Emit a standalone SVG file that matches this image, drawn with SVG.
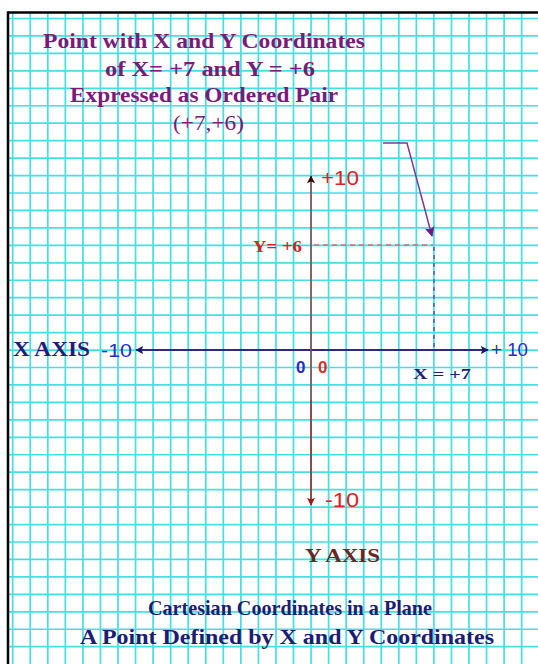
<svg xmlns="http://www.w3.org/2000/svg" width="538" height="664" viewBox="0 0 538 664">
<defs>
<style>
.grid{stroke:#45dfe3;stroke-width:1.7;fill:none}
.serifb{font-family:"Liberation Serif","Times New Roman",serif;font-weight:bold}
.serif{font-family:"Liberation Serif","Times New Roman",serif}
.sans{font-family:"Liberation Sans",Arial,sans-serif}
.title{fill:#7a1a78;font-size:22px}
.caption{fill:#1c1c72;font-size:22px}
</style>
<marker id="ahX" viewBox="0 0 10 10" refX="9" refY="5" markerWidth="8" markerHeight="8" markerUnits="userSpaceOnUse" orient="auto-start-reverse"><path d="M0,0 L10,5 L0,10 L2,5 Z" fill="#1e1a6a"/></marker>
<marker id="ahYtop" viewBox="0 0 10 10" refX="9" refY="5" markerWidth="8" markerHeight="8" markerUnits="userSpaceOnUse" orient="auto"><path d="M0,0 L10,5 L0,10 L2,5 Z" fill="#3a0a0a"/></marker>
<marker id="ahYbot" viewBox="0 0 10 10" refX="9" refY="5" markerWidth="8" markerHeight="8" markerUnits="userSpaceOnUse" orient="auto"><path d="M0,0 L10,5 L0,10 L2,5 Z" fill="#a01818"/></marker>
<marker id="ahP" viewBox="0 0 10 10" refX="9" refY="5" markerWidth="10" markerHeight="10" markerUnits="userSpaceOnUse" orient="auto"><path d="M0,0 L10,5 L0,10 L2,5 Z" fill="#6a1a8a"/></marker>
</defs>
<rect width="538" height="664" fill="#ffffff"/>
<g id="grid" class="grid">
<path d="M12.7,13V664M30.25,13V664M47.8,13V664M65.35,13V664M82.9,13V664M100.45,13V664M118,13V664M135.55,13V664M153.1,13V664M170.65,13V664M188.2,13V664M205.75,13V664M223.3,13V664M240.85,13V664M258.4,13V664M275.95,13V664M293.5,13V664M311.05,13V664M328.6,13V664M346.15,13V664M363.7,13V664M381.25,13V664M398.8,13V664M416.35,13V664M433.9,13V664M451.45,13V664M469,13V664M486.55,13V664M504.1,13V664M521.65,13V664"/>
<path d="M8,18.5H538M8,35.95H538M8,53.4H538M8,70.85H538M8,88.3H538M8,105.75H538M8,123.2H538M8,140.65H538M8,158.1H538M8,175.55H538M8,193H538M8,210.45H538M8,227.9H538M8,245.35H538M8,262.8H538M8,280.25H538M8,297.7H538M8,315.15H538M8,332.6H538M8,350.05H538M8,367.5H538M8,384.95H538M8,402.4H538M8,419.85H538M8,437.3H538M8,454.75H538M8,472.2H538M8,489.65H538M8,507.1H538M8,524.55H538M8,542H538M8,559.45H538M8,576.9H538M8,594.35H538M8,611.8H538M8,629.25H538M8,646.7H538"/>
</g>
<path id="border" d="M8,664V12.5H538" fill="none" stroke="#000" stroke-width="2.5"/>
<g id="connectors">
<line x1="136" y1="350" x2="488" y2="350" stroke="#2e2a7a" stroke-width="2" marker-start="url(#ahX)" marker-end="url(#ahX)"/>
<line x1="311" y1="500" x2="311" y2="176" stroke="#8a4848" stroke-width="1.6" marker-end="url(#ahYtop)"/>
<line x1="311" y1="400" x2="311" y2="505" stroke="#8a4848" stroke-width="1.6" marker-end="url(#ahYbot)"/>
<line x1="314" y1="245" x2="433" y2="245" stroke="#e06a6a" stroke-width="1.5" stroke-dasharray="5,4"/>
<line x1="434" y1="247" x2="434" y2="348" stroke="#5a50d0" stroke-width="1.5" stroke-dasharray="4,4"/>
<polyline points="383,143 407,143 432,236" fill="none" stroke="#7a3a9a" stroke-width="1.5" marker-end="url(#ahP)"/>
</g>
<g id="title">
<text class="serifb title" x="43" y="48" textLength="322" lengthAdjust="spacingAndGlyphs">Point with X and Y Coordinates</text>
<text class="serifb title" x="105" y="76" textLength="210" lengthAdjust="spacingAndGlyphs">of X= +7 and Y = +6</text>
<text class="serifb title" x="70" y="102" textLength="268" lengthAdjust="spacingAndGlyphs">Expressed as Ordered Pair</text>
<text class="serif title" x="173" y="130" textLength="71" lengthAdjust="spacingAndGlyphs">(+7,+6)</text>
</g>
<g id="x-axis-label"><text class="serifb" x="13" y="356" font-size="20" fill="#1e1e78" textLength="77" lengthAdjust="spacingAndGlyphs">X AXIS</text></g>
<g id="x-minus-10"><text class="sans" x="101" y="357" font-size="18" fill="#2a2ac8" textLength="31" lengthAdjust="spacingAndGlyphs">-10</text></g>
<g id="x-plus-10"><text class="sans" x="491" y="356" font-size="18" fill="#2a2ac8" textLength="37" lengthAdjust="spacingAndGlyphs">+ 10</text></g>
<g id="origin-x"><text class="sans" x="296" y="373" font-size="17" font-weight="bold" fill="#2a2ac8">0</text></g>
<g id="origin-y"><text class="sans" x="318" y="373" font-size="17" font-weight="bold" fill="#d83030">0</text></g>
<g id="x-eq-7"><text class="serifb" x="413" y="379" font-size="15" fill="#1e1e78" textLength="58" lengthAdjust="spacingAndGlyphs">X = +7</text></g>
<g id="y-plus-10"><text class="sans" x="321" y="185" font-size="21" fill="#e02020" textLength="38" lengthAdjust="spacingAndGlyphs">+10</text></g>
<g id="y-eq-6"><text class="serifb" x="253" y="252" font-size="16" fill="#d82020" textLength="49" lengthAdjust="spacingAndGlyphs">Y= +6</text></g>
<g id="y-minus-10"><text class="sans" x="325" y="507" font-size="20" fill="#e02020" textLength="34" lengthAdjust="spacingAndGlyphs">-10</text></g>
<g id="y-axis-label"><text class="serifb" x="305" y="562" font-size="19" fill="#6b2525" textLength="75" lengthAdjust="spacingAndGlyphs">Y AXIS</text></g>
<g id="caption">
<text class="serifb caption" x="148" y="615" textLength="284" lengthAdjust="spacingAndGlyphs">Cartesian Coordinates in a Plane</text>
<text class="serifb caption" x="80" y="644" textLength="414" lengthAdjust="spacingAndGlyphs">A Point Defined by X and Y Coordinates</text>
</g>
</svg>
